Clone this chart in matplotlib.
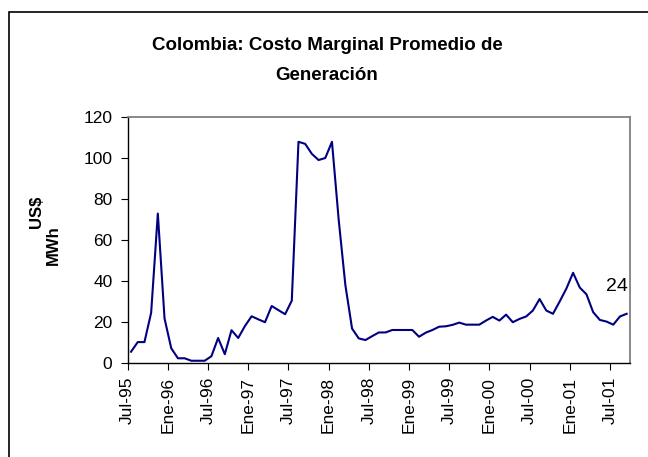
import numpy as np
import matplotlib.pyplot as plt
from matplotlib.patches import Rectangle

plt.rcParams['font.family'] = ['Liberation Sans', 'DejaVu Sans']

# costo marginal promedio, US$/MWh, mensual desde Jul-95 hasta Sep-01
costo = [5.5, 10.2, 10.2, 24.5, 72.9, 21.7, 7.2, 2.3, 2.3, 1.1,
         1.1, 1.1, 3.3, 12.2, 4.3, 16.0, 12.2, 18.0, 22.8, 21.3,
         19.9, 27.8, 25.8, 23.8, 30.4, 107.9, 106.9, 102.0, 99.0, 100.0,
         107.9, 70.0, 38.0, 16.8, 12.0, 11.2, 13.1, 14.9, 14.9, 16.1,
         16.1, 16.1, 16.1, 12.8, 14.8, 16.1, 17.7, 17.9, 18.6, 19.7,
         18.7, 18.7, 18.7, 20.7, 22.5, 20.7, 23.6, 19.9, 21.5, 22.7,
         25.6, 31.2, 25.6, 24.0, 30.0, 36.3, 44.0, 36.8, 33.5, 24.8,
         21.0, 20.2, 18.7, 22.7, 24.0]
etiquetas = ["Jul-95", "Ene-96", "Jul-96", "Ene-97", "Jul-97", "Ene-98", "Jul-98",
             "Ene-99", "Jul-99", "Ene-00", "Jul-00", "Ene-01", "Jul-01"]
y_ticks = [0, 20, 40, 60, 80, 100, 120]

n = len(costo)
x = np.arange(n) + 0.5

fig = plt.figure(figsize=(6.48, 4.57), dpi=100)
ax = fig.add_axes([127.7/648, 1-363/457, (630-127.7)/648, (363-117)/457])

ax.plot(x, costo, color='#000080', lw=1.5)
ax.text(x[-1] - 1.5, costo[-1] + 13.5, "%d" % round(costo[-1]), fontsize=14,
        ha='center', va='center')

ax.set_xlim(0, n)
ax.set_ylim(0, 120)
ax.set_yticks(y_ticks)
ax.set_xticks(np.arange(0, n, 6))
ax.set_xticklabels(etiquetas, rotation=90)
ax.tick_params(axis='y', labelsize=12.5, length=5, pad=6, direction='out')
ax.tick_params(axis='x', labelsize=12.5, length=5, pad=5, direction='out')

for s in ['top', 'right']:
    ax.spines[s].set_color('#808080')
    ax.spines[s].set_linewidth(1.3)
for s in ['left', 'bottom']:
    ax.spines[s].set_color('black')
    ax.spines[s].set_linewidth(1.0)

fig.text(327/648, 1-45/457, "Colombia: Costo Marginal Promedio de", fontsize=13.5,
         fontweight='bold', ha='center', va='center')
fig.text(327/648, 1-75/457, "Generación", fontsize=13.5,
         fontweight='bold', ha='center', va='center')
fig.text(37/648, 1-212/457, "US$", fontsize=12, fontweight='bold',
         rotation=90, ha='center', va='center')
fig.text(53/648, 1-245/457, "MWh", fontsize=12, fontweight='bold',
         rotation=90, ha='center', va='center')

# marco exterior
fig.patches.append(Rectangle((9/648, -0.1), 1.2, 0.1 + 1 - 12/457,
                             transform=fig.transFigure, fill=False,
                             edgecolor='black', lw=1.2))

fig.savefig("out.png", dpi=100)
